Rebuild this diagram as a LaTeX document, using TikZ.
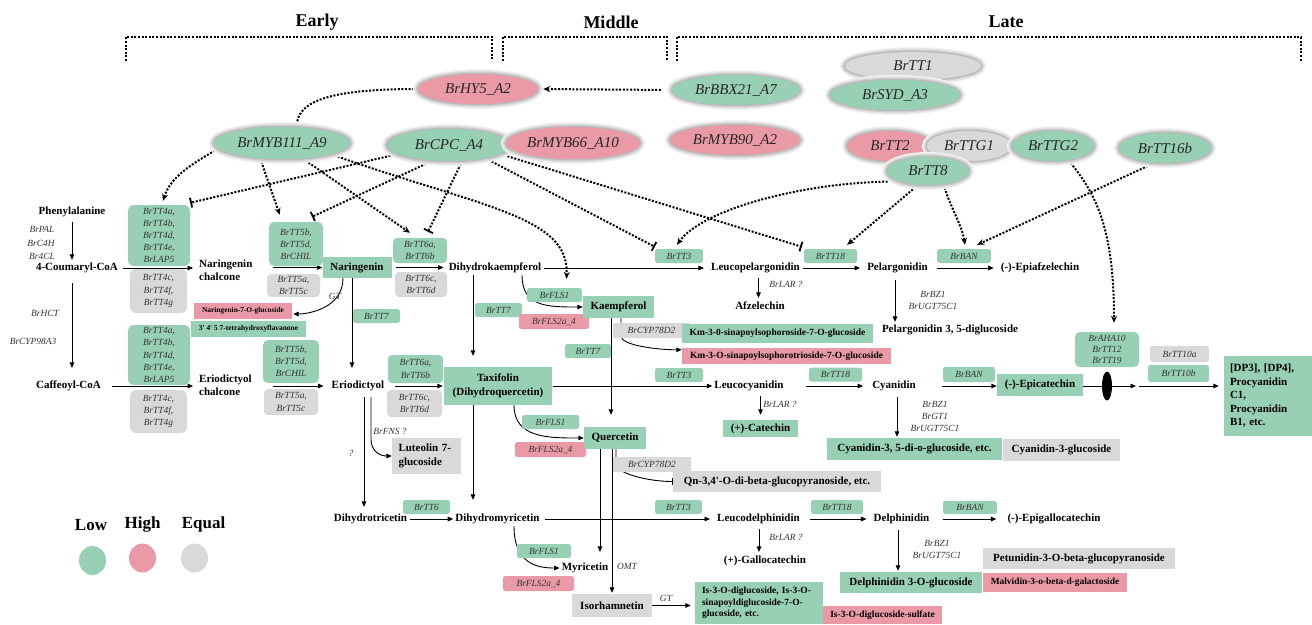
\documentclass[tikz,border=0pt]{standalone}
\usepackage{fontspec}
\setmainfont{Liberation Serif}
\usetikzlibrary{arrows.meta,shapes.geometric,calc}
\pgfdeclarelayer{bg}
\pgfsetlayers{bg,main}
\definecolor{cgn}{HTML}{97D0B5}
\definecolor{cpk}{HTML}{EA9AA6}
\definecolor{cgy}{HTML}{D9D9D9}
\definecolor{gtext}{HTML}{333333}
\newcommand{\mfbold}{\fontsize{11}{13.5}\selectfont\bfseries}
\newcommand{\mfgene}{\fontsize{9.4}{12.2}\selectfont\itshape}
\newcommand{\mfgenet}{\fontsize{9.4}{11.4}\selectfont\itshape}
\newcommand{\mfsmall}{\fontsize{7.4}{8}\selectfont\bfseries}
\newcommand{\mfkm}{\fontsize{9.5}{11}\selectfont\bfseries}
\newcommand{\mfis}{\fontsize{9.5}{11.5}\selectfont\bfseries}
\newcommand{\mfmal}{\fontsize{9.4}{11}\selectfont\bfseries}
\newcommand{\mfell}{\fontsize{15}{17}\selectfont\itshape}
\newcommand{\mfhead}{\fontsize{18}{20}\selectfont\bfseries}
\newcommand{\mfleg}{\fontsize{17}{19}\selectfont\bfseries}
\begin{document}
\begin{tikzpicture}[x=1pt,y=-1pt,
  sz/.style 2 args={minimum width=#1pt, minimum height=#2pt},
  ell/.style={ellipse, inner sep=0pt, font=\mfell, text=black!85,
    preaction={draw=black!5, line width=10pt},
    preaction={draw=black!11, line width=7.5pt},
    preaction={draw=black!19, line width=5pt},
    preaction={draw=black!27, line width=2.5pt}},
  met/.style={font=\mfbold, inner sep=2pt, text height=7.6pt, text depth=2.2pt},
  mettwo/.style={font=\mfbold, inner sep=2pt, align=left},
  mbox/.style={font=\mfbold, inner sep=0pt, align=center},
  gbx/.style={rounded corners=2.5pt, inner sep=0pt, font=\mfgene, text=gtext, align=center},
  gl/.style={font=\mfgene, text=gtext, inner sep=0.5pt},
  arr/.style={line width=0.9pt, -{Triangle[length=5.5pt,width=4.6pt]}},
  ln/.style={line width=0.9pt},
  reg/.style={line width=2pt, dash pattern=on 2pt off 1.6pt},
  ract/.style={reg, -{Stealth[length=7pt,width=6pt]}},
  rinh/.style={reg, -{Bar[width=10pt,line width=1.8pt]}},
  hd/.style={font=\mfhead},
  leg/.style={font=\mfleg},
]
\useasboundingbox (0,0) rectangle (1312,624);

% headers
\node[hd] (hE) at (317,22) {Early};
\node[hd] (hM) at (611,22) {Middle};
\node[hd] (hL) at (1006,22) {Late};

% regulators
\node[ell, fill=cgy, sz={136}{28}] (tt1) at (913,66) {BrTT1};
\node[ell, fill=cgn, sz={130}{30}] (syd) at (895,95) {BrSYD\_A3};
\node[ell, fill=cpk, sz={120}{30}] (hy5) at (478,89) {BrHY5\_A2};
\node[ell, fill=cgn, sz={128}{30}] (bbx) at (736,90) {BrBBX21\_A7};
\node[ell, fill=cgn, sz={136}{32}] (myb111) at (282,143) {BrMYB111\_A9};
\node[ell, fill=cgn, sz={124}{32}] (cpc) at (449,145) {BrCPC\_A4};
\node[ell, fill=cpk, sz={134}{32}] (myb66) at (573,143) {BrMYB66\_A10};
\node[ell, fill=cpk, sz={130}{30}] (myb90) at (735,140) {BrMYB90\_A2};
\node[ell, fill=cpk, sz={86}{30}] (tt2) at (890,146) {BrTT2};
\node[ell, fill=cgy, sz={84}{30}] (ttg1) at (969,146) {BrTTG1};
\node[ell, fill=cgn, sz={82}{30}] (ttg2) at (1053,146) {BrTTG2};
\node[ell, fill=cgn, sz={92}{30}] (tt16b) at (1165,148) {BrTT16b};
\node[ell, fill=cgn, sz={82}{28}] (tt8) at (928,171) {BrTT8};

% gene boxes
\node[gbx, fill=cgn, sz={62}{61}, rounded corners=6pt] (tt4ug) at (159,235.5) {BrTT4a,\\BrTT4b,\\BrTT4d,\\BrTT4e,\\BrLAP5};
\node[gbx, fill=cgy, sz={57}{44}, rounded corners=6pt] (tt4ur) at (158.5,291) {BrTT4c,\\BrTT4f,\\BrTT4g};
\node[gbx, fill=cgn, sz={62}{60}, rounded corners=6pt] (tt4lg) at (159,355) {BrTT4a,\\BrTT4b,\\BrTT4d,\\BrTT4e,\\BrLAP5};
\node[gbx, fill=cgy, sz={57}{43}, rounded corners=6pt] (tt4lr) at (158.5,411.5) {BrTT4c,\\BrTT4f,\\BrTT4g};
\node[gbx, fill=cgn, sz={54}{44}, rounded corners=5pt] (tt5ug) at (296,244) {BrTT5b,\\BrTT5d,\\BrCHIL};
\node[gbx, fill=cgy, sz={53}{23}, rounded corners=4pt] (tt5ur) at (293.5,285.5) {BrTT5a,\\BrTT5c};
\node[gbx, fill=cgn, sz={56}{43}, rounded corners=5pt] (tt5lg) at (291,361.5) {BrTT5b,\\BrTT5d,\\BrCHIL};
\node[gbx, fill=cgy, sz={54}{26}, rounded corners=4pt] (tt5lr) at (291,402) {BrTT5a,\\BrTT5c};
\node[gbx, fill=cgn, sz={54}{25}, rounded corners=4pt] (tt6ug) at (420,250.5) {BrTT6a,\\BrTT6b};
\node[gbx, fill=cgy, sz={52}{25}, rounded corners=4pt] (tt6ur) at (421,284.5) {BrTT6c,\\BrTT6d};
\node[gbx, fill=cgn, sz={55}{28}, rounded corners=4pt] (tt6lg) at (415.5,369) {BrTT6a,\\BrTT6b};
\node[gbx, fill=cgy, sz={55}{27}, rounded corners=4pt] (tt6lr) at (414.5,403.5) {BrTT6c,\\BrTT6d};
\node[gbx, fill=cgn, sz={47}{14}] (tt7a) at (376.5,316) {BrTT7};
\node[gbx, fill=cgn, sz={47}{14}] (tt7b) at (498.5,310) {BrTT7};
\node[gbx, fill=cgn, sz={46}{14}] (tt7c) at (588,351) {BrTT7};
\node[gbx, fill=cgn, sz={55}{14}] (fls1a) at (554.5,295) {BrFLS1};
\node[gbx, fill=cpk, sz={70}{15}] (fls2a) at (554,321.5) {BrFLS2a\_4};
\node[gbx, fill=cgn, sz={57}{14}] (fls1b) at (550.5,422) {BrFLS1};
\node[gbx, fill=cpk, sz={71}{15}] (fls2b) at (550.5,449.5) {BrFLS2a\_4};
\node[gbx, fill=cgn, sz={54}{14}] (fls1c) at (544,551) {BrFLS1};
\node[gbx, fill=cpk, sz={71}{15}] (fls2c) at (538.5,583.5) {BrFLS2a\_4};
\node[gbx, fill=cgy, sz={77}{15}, rounded corners=1pt] (cyp1) at (651.5,330.5) {BrCYP78D2};
\node[gbx, fill=cgy, sz={78}{15}, rounded corners=1pt] (cyp2) at (652,464.5) {BrCYP78D2};
\node[gbx, fill=cgn, sz={48}{14}] (tt3a) at (679,256) {BrTT3};
\node[gbx, fill=cgn, sz={53}{14}] (tt18a) at (830.5,256) {BrTT18};
\node[gbx, fill=cgn, sz={54}{14}] (bana) at (964,256) {BrBAN};
\node[gbx, fill=cgn, sz={48}{14}] (tt3b) at (679,375) {BrTT3};
\node[gbx, fill=cgn, sz={53}{14}] (tt18b) at (835.5,374.5) {BrTT18};
\node[gbx, fill=cgn, sz={52}{15}] (banb) at (969,374.5) {BrBAN};
\node[gbx, fill=cgn, sz={47}{14}] (tt6c) at (426.5,507) {BrTT6};
\node[gbx, fill=cgn, sz={47}{14}] (tt3c) at (678.5,507) {BrTT3};
\node[gbx, fill=cgn, sz={52}{14}] (tt18c) at (837,507) {BrTT18};
\node[gbx, fill=cgn, sz={54}{13}] (banc) at (970,507.5) {BrBAN};
\node[gbx, fill=cgn, sz={64}{35}, rounded corners=5pt, font=\mfgenet] (aha) at (1107,349.5) {BrAHA10\\BrTT12\\BrTT19};
\node[gbx, fill=cgy, sz={59}{16}] (tt10a) at (1179.5,354) {BrTT10a};
\node[gbx, fill=cgn, sz={61}{17}] (tt10b) at (1178.5,373.5) {BrTT10b};

% plain gene labels
\node[gl] (gpal) at (42,229) {BrPAL};
\node[gl] (gc4h) at (41,243) {BrC4H};
\node[gl] (g4cl) at (42,256) {Br4CL};
\node[gl] (ghct) at (45,313) {BrHCT};
\node[gl] (gcyp98) at (33,341) {BrCYP98A3};
\node[gl] (ggt1) at (335,296) {GT};
\node[gl] (glar1) at (786,284) {BrLAR ?};
\node[gl] (gbz1) at (933,294) {BrBZ1};
\node[gl] (gugt1) at (933,306) {BrUGT75C1};
\node[gl] (glar2) at (780,404) {BrLAR ?};
\node[gl] (gbz2) at (935,404) {BrBZ1};
\node[gl] (ggt2) at (935,416) {BrGT1};
\node[gl] (gugt2) at (935,428) {BrUGT75C1};
\node[gl] (gfns) at (390,431) {BrFNS ?};
\node[gl] (gq) at (351,453) {?};
\node[gl] (glar3) at (786,537) {BrLAR ?};
\node[gl] (gbz3) at (937,543) {BrBZ1};
\node[gl] (gugt3) at (937,555) {BrUGT75C1};
\node[gl] (gomt) at (627,566) {OMT};
\node[gl] (ggt3) at (666,598) {GT};

% metabolites
\node[met] (phe) at (72,212) {Phenylalanine};
\node[met] (cou) at (77,268) {4-Coumaryl-CoA};
\node[mettwo, anchor=west] (narch) at (197,270) {Naringenin\\chalcone};
\node[mbox, fill=cgn, sz={69}{21}] (nar) at (357,267.5) {Naringenin};
\node[met] (dhk) at (495,268) {Dihydrokaempferol};
\node[met] (lp) at (755.5,268) {Leucopelargonidin};
\node[met] (pel) at (897.5,268) {Pelargonidin};
\node[met] (epiaf) at (1040,268) {(-)-Epiafzelechin};
\node[met] (afz) at (760,307) {Afzelechin};
\node[met] (pel35) at (950,330) {Pelargonidin 3, 5-diglucoside};
\node[met] (caf) at (68.5,386) {Caffeoyl-CoA};
\node[mettwo, anchor=west] (eriochal) at (197,385) {Eriodictyol\\chalcone};
\node[met] (erio) at (358,386) {Eriodictyol};
\node[mbox, fill=cgn, sz={108}{38}] (taxi) at (498,386) {Taxifolin\\(Dihydroquercetin)};
\node[met] (lc) at (749,386) {Leucocyanidin};
\node[met] (cyan) at (894,386) {Cyanidin};
\node[mbox, fill=cgn, sz={86}{22}] (epicat) at (1040,385) {(-)-Epicatechin};
\node[fill=black, ellipse, sz={10}{29}, inner sep=0pt] (blk) at (1107,386) {};
\coordinate (pa1) at (1136,386);
\coordinate (pa2) at (1139,386);
\node[mbox, fill=cgn, sz={88}{80}, align=left, text width=76pt] (dp) at (1268,396) {[DP3], [DP4],\\Procyanidin\\C1,\\Procyanidin\\B1, etc.};
\node[met] (dht) at (370.5,519) {Dihydrotricetin};
\node[met] (dhm) at (497.5,519) {Dihydromyricetin};
\node[met] (ld) at (758.5,519) {Leucodelphinidin};
\node[met] (delph) at (901.5,519) {Delphinidin};
\node[met] (egc) at (1054,519) {(-)-Epigallocatechin};
\node[met] (gc) at (765,561) {(+)-Gallocatechin};
\node[met] (myr) at (585,568) {Myricetin};

\node[mbox, fill=cgn, sz={71}{22}] (kae) at (618.5,307) {Kaempferol};
\node[mbox, fill=cgn, sz={62}{22}] (q) at (615,438) {Quercetin};
\node[mbox, fill=cgy, sz={69}{36}, align=left, text width=56pt] (lut) at (426.5,456) {Luteolin 7-\\glucoside};
\node[mbox, fill=cgy, sz={80}{23}] (iso) at (612,605.5) {Isorhamnetin};
\node[mbox, fill=cgn, sz={191}{19}, font=\mfkm] (kms) at (777.5,333.5) {Km-3-0-sinapoylsophoroside-7-O-glucoside};
\node[mbox, fill=cpk, sz={209}{16}, font=\mfkm] (kmt) at (786.5,356) {Km-3-O-sinapoylsophorotrioside-7-O-glucoside};
\node[mbox, fill=cpk, sz={98}{16}, font=\mfsmall] (n7g) at (243,311) {Naringenin-7-O-glucoside};
\node[mbox, fill=cgn, sz={115}{16}, font=\mfsmall] (thf) at (248.5,329) {3\textquotesingle{} 4\textquotesingle{} 5 7-tetrahydroxyflavanone};
\node[mbox, fill=cgn, sz={75}{17}] (cat) at (760.5,428.5) {(+)-Catechin};
\node[mbox, fill=cgn, sz={175}{22}] (cy35) at (914.5,449) {Cyanidin-3, 5-di-o-glucoside, etc.};
\node[mbox, fill=cgy, sz={117}{22}] (cy3g) at (1061.5,450) {Cyanidin-3-glucoside};
\node[mbox, fill=cgy, sz={208}{21}] (qn) at (777,481.5) {Qn-3,4\textquotesingle-O-di-beta-glucopyranoside, etc.};
\node[mbox, fill=cgn, sz={142}{21}] (d3g) at (911,582.5) {Delphinidin 3-O-glucoside};
\node[mbox, fill=cgy, sz={192}{21}] (pet) at (1079,558.5) {Petunidin-3-O-beta-glucopyranoside};
\node[mbox, fill=cpk, sz={144}{19}, font=\mfmal] (mal) at (1055,582.5) {Malvidin-3-o-beta-d-galactoside};
\node[mbox, fill=cgn, sz={128}{42}, font=\mfis, align=left, text width=114pt] (is3) at (759,603) {Is-3-O-diglucoside, Is-3-O-\\sinapoyldiglucoside-7-O-\\glucoside, etc.};
\node[mbox, fill=cpk, sz={119}{18}, font=\mfis] (is3s) at (882.5,615) {Is-3-O-diglucoside-sulfate};

% legend
\node[leg] (lowt) at (91,525) {Low};
\node[leg] (hight) at (142.5,524) {High};
\node[leg] (eqt) at (203.5,524) {Equal};
\node[ellipse, fill=cgn, sz={27}{29}, inner sep=0pt] (lowc) at (92.5,560.5) {};
\node[ellipse, fill=cpk, sz={27}{29}, inner sep=0pt] (highc) at (142.5,558) {};
\node[ellipse, fill=cgy, sz={27}{29}, inner sep=0pt] (eqc) at (194.5,558) {};

\begin{pgfonlayer}{bg}
% brackets
\draw[reg] (126,61) -- (126,37) -- (492,37) -- (492,61);
\draw[reg] (503,61) -- (503,37) -- (667,37) -- (667,61);
\draw[reg] (677,61) -- (677,37) -- (1301,37) -- (1301,61);

% regulatory links
\draw[ract, shorten <=11pt, shorten >=5pt] (bbx.west) -- (hy5.east);
\draw[rinh] (hy5.west) .. controls +(-80,0) and +(0,-28) .. ($(myb111.north)+(15,0)$);
\draw[ract] (myb111.185) .. controls +(-25,15) and +(8,-25) .. ($(tt4ug.north)+(4,-4)$);
\draw[rinh] (cpc.190) -- ($(tt4ug.north east)+(0,-2)$);
\draw[ract] (myb111.215) -- ($(tt5ug.north west)+(11,-7)$);
\draw[rinh] (cpc.224) -- ($(tt5ug.north)+(16,-5)$);
\draw[ract] (myb111.-37) -- ($(tt6ug.north)+(-10,-5)$);
\draw[rinh] (cpc.-50) -- ($(tt6ug.north)+(8,-6)$);
\draw[ract] (myb111.-13) .. controls +(150,53) and +(3,-63) .. ($(fls1a.north)+(12,-9)$);
\draw[rinh] (cpc.-20) -- ($(tt3a.north west)+(0,-2)$);
\draw[rinh] (cpc.-10) -- ($(tt18a.north west)+(-2,-2)$);
\draw[ract, shorten <=12pt] (tt8.200) .. controls +(-100,2) and +(25,-35) .. ($(tt3a.north)+(-2,-4)$);
\draw[ract] (tt8.235) -- ($(tt18a.north east)+(-10,-4)$);
\draw[ract] (tt8.-40) .. controls +(5,20) and +(-3,-20) .. ($(bana.north)+(1,-4)$);
\draw[ract] (tt16b.235) -- ($(bana.north east)+(-14,-4)$);
\draw[ract] (ttg2.-43) .. controls +(30,35) and +(0,-90) .. ($(aha.north)+(7,-9)$);

% pathway: verticals left
\draw[arr, shorten <=3pt, shorten >=1pt] (phe.south) -- (phe.south |- cou.north);
\draw[arr, shorten <=8pt, shorten >=11pt] (cou.south -| phe.south) -- (caf.north -| phe.south);

% row 1
\draw[arr, shorten <=3pt, shorten >=4pt] (cou.east) -- (cou.east -| narch.west);
\draw[arr] ($(nar.west -| narch.east)+(18,0)$) -- (nar.west);
\draw[arr, shorten <=4pt, shorten >=3pt] (nar.east) -- (nar.east -| dhk.west);
\draw[arr, shorten <=1pt, shorten >=5pt] (dhk.east) -- (lp.west);
\draw[arr, shorten <=1pt, shorten >=5pt] (lp.east) -- (pel.west);
\draw[arr, shorten <=7pt, shorten >=5pt] (pel.east) -- (epiaf.west);
\draw[arr, shorten <=3pt, shorten >=2pt] ($(lp.south)+(3,0)$) -- ($(afz.north)+(-1.5,0)$);
\draw[arr, shorten <=5pt, shorten >=1pt] ($(pel.south)+(-2.5,0)$) -- ($(pel35.north)+(-55,0)$);

% row 2
\draw[arr, shorten <=9pt, shorten >=4pt] (caf.east) -- (caf.east -| eriochal.west);
\draw[arr, shorten >=6pt] ($(erio.west -| eriochal.east)+(19,0)$) -- (erio.west);
\draw[arr, shorten <=9pt, shorten >=1pt] (erio.east) -- (taxi.west);
\draw[arr, shorten <=1pt] (taxi.east) -- (lc.west);
\draw[arr, shorten <=20pt, shorten >=7pt] (lc.east) -- (cyan.west);
\draw[arr, shorten <=24pt] (cyan.east) -- (cyan.east -| epicat.west);
\draw[ln] (epicat.east |- blk.west) -- (blk.west);
\draw[arr] (blk.east) -- (pa1);
\draw[arr, shorten >=5pt] (pa2) -- (pa2 -| dp.west);
\draw[arr, shorten <=3pt, shorten >=5pt] ($(lc.south)+(11.5,0)$) -- (cat.north);
\draw[arr, shorten <=4pt, shorten >=1pt] ($(cyan.south)+(3,0)$) -- ($(cy35.north)+(-17.5,0)$);

% row 3
\draw[arr, shorten <=1pt] (dht.east) -- (dhm.west);
\draw[arr, shorten <=3pt, shorten >=5pt] (dhm.east) -- (ld.west);
\draw[arr, shorten <=8pt, shorten >=5pt] (ld.east) -- (delph.west);
\draw[arr, shorten <=11pt, shorten >=9pt] (delph.east) -- (egc.west);
\draw[arr, shorten <=3pt, shorten >=2pt] ($(ld.south)+(0.5,0)$) -- ($(gc.north)+(-6,0)$);
\draw[arr, shorten <=4pt, shorten >=1pt] ($(delph.south)+(-3.5,0)$) -- ($(d3g.north)+(-13,0)$);

% naringenin / eriodictyol branch
\draw[arr, shorten >=11pt] ($(nar.south)+(-5,0)$) -- ($(erio.north)+(-6,0)$);
\draw[arr] ($(nar.south)+(-14,0)$) .. controls +(0,30) and +(15,0) .. ($(n7g.east)+(1,3)$);
\draw[arr, shorten <=4pt, shorten >=5pt] ($(erio.south)+(6,0)$) -- ($(dht.north)+(-6.5,0)$);
\draw[arr, shorten <=4pt] ($(erio.south)+(13,0)$) -- ++(0,46) .. controls +(0,12) and +(-12,0) .. (lut.west);

% dihydrokaempferol / taxifolin / dihydromyricetin
\draw[arr, shorten >=11pt] ($(dhk.south)+(-22,0)$) -- ($(taxi.north)+(-25,0)$);
\draw[arr, shorten >=12pt] ($(taxi.south)+(-25,0)$) -- ($(dhm.north)+(-24.5,0)$);
\draw[arr] ($(dhk.south)+(27,0)$) .. controls +(0,32) and +(-35,0) .. (kae.west);
\draw[arr] ($(taxi.south)+(16,0)$) .. controls +(0,33) and +(-35,0) .. (q.west);
\draw[arr] ($(dhm.south)+(16.5,0)$) .. controls +(0,38) and +(-22,0) .. (myr.west);

% kaempferol / quercetin
\draw[arr, shorten >=12pt] ($(kae.south)+(-7.5,0)$) -- ($(q.north)+(-4,0)$);
\draw[arr] ($(kae.south)+(2.5,0)$) -- ++(0,18) .. controls +(0,9) and +(-25,0) .. ($(kmt.north west)+(0,2)$);
\draw[arr, shorten >=9pt] ($(q.south)+(-15,0)$) -- ($(myr.north)+(15,0)$);
\draw[arr, shorten >=1pt] ($(q.south)+(-3,0)$) -- (iso.north);
\draw[ln, -{Bar[width=7pt,line width=0.9pt]}] ($(q.south)+(1,0)$) -- ++(0,15) .. controls +(0,9) and +(-25,0) .. (qn.west);
\draw[arr, shorten >=4pt] (iso.east) -- (iso.east -| is3.west);
\end{pgfonlayer}
\end{tikzpicture}
\end{document}
